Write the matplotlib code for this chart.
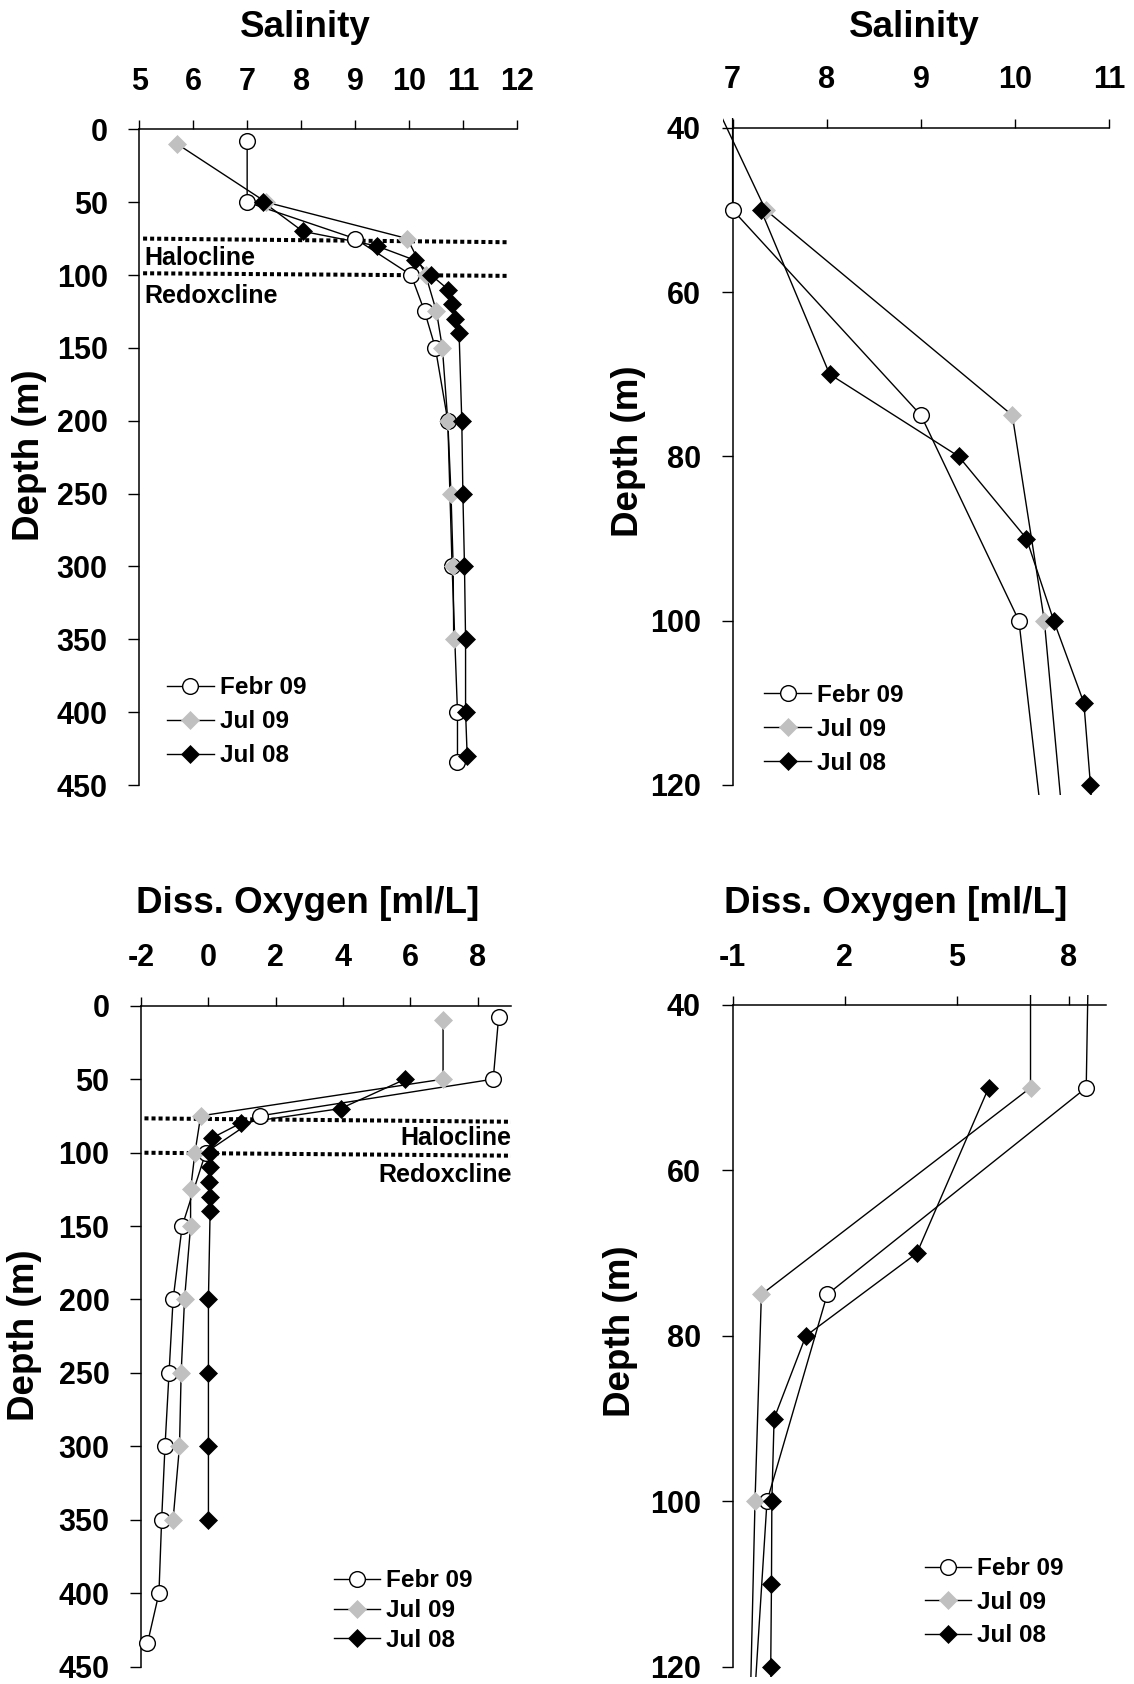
import numpy as np
import matplotlib.pyplot as plt
from matplotlib.lines import Line2D

plt.rcParams['font.family'] = ['Liberation Sans', 'DejaVu Sans']
plt.rcParams['font.weight'] = 'bold'
plt.rcParams['axes.unicode_minus'] = False

# Salinity profiles (depth in m)
sal_feb09_depth = [8, 50, 75, 100, 125, 150, 200, 300, 400, 434]
sal_feb09 = [7.0, 7.0, 9.0, 10.04, 10.29, 10.49, 10.72, 10.80, 10.90, 10.90]
sal_jul09_depth = [10, 50, 75, 100, 125, 150, 200, 250, 300, 350]
sal_jul09 = [5.70, 7.35, 9.97, 10.31, 10.51, 10.62, 10.72, 10.78, 10.82, 10.83]
sal_jul08_depth = [50, 70, 80, 90, 100, 110, 120, 130, 140, 200, 250, 300, 350, 400, 430]
sal_jul08 = [7.30, 8.03, 9.40, 10.12, 10.41, 10.73, 10.80, 10.86, 10.93, 10.98,
             11.00, 11.03, 11.05, 11.05, 11.08]

# Dissolved oxygen profiles [ml/L]
oxy_feb09_depth = [8, 50, 75, 100, 150, 200, 250, 300, 350, 400, 434]
oxy_feb09 = [8.62, 8.46, 1.53, -0.08, -0.78, -1.05, -1.17, -1.29, -1.39, -1.47, -1.81]
oxy_jul09_depth = [10, 50, 75, 100, 125, 150, 200, 250, 300, 350]
oxy_jul09 = [6.97, 6.97, -0.23, -0.40, -0.53, -0.53, -0.71, -0.81, -0.86, -1.05]
oxy_jul08_depth = [50, 70, 80, 90, 100, 110, 120, 130, 140, 200, 250, 300, 350]
oxy_jul08 = [5.85, 3.93, 0.96, 0.11, 0.05, 0.04, 0.02, 0.05, 0.05, 0.0, 0.0, 0.0, 0.0]

labels = ['Febr 09', 'Jul 09', 'Jul 08']

# halocline / redoxcline marks: (x0, x1), (depth0, depth1)
sal_halocline = ((5.07, 11.85), (75.0, 77.5))
sal_redoxcline = ((5.07, 11.85), (98.8, 100.6))
oxy_halocline = ((-1.9, 9.0), (76.7, 79.0))
oxy_redoxcline = ((-1.9, 9.0), (100.1, 102.1))

W, H = 1134, 1684
fig = plt.figure(figsize=(W / 100, H / 100), dpi=100)

styles = [
    dict(marker='o', ms=11.3, mfc='white', mec='black', mew=1.0),
    dict(marker='D', ms=9.2, mfc='#c0c0c0', mec='#c0c0c0', mew=0.5),
    dict(marker='D', ms=9.2, mfc='black', mec='black', mew=0.5),
]


def make_axes(box, xr, yr, xlim, ylim, xticks, yticks):
    # box: pixel positions (left, right, top, bottom) of the axis ends
    left, right, top, bottom = box
    sx = (right - left) / (xr[1] - xr[0])
    sy = (bottom - top) / (yr[1] - yr[0])
    L = left + (xlim[0] - xr[0]) * sx
    R = left + (xlim[1] - xr[0]) * sx
    T = top + (ylim[0] - yr[0]) * sy
    B = top + (ylim[1] - yr[0]) * sy
    ax = fig.add_axes([L / W, 1 - B / H, (R - L) / W, (B - T) / H])
    ax.set_xlim(xlim)
    ax.set_ylim(ylim[1], ylim[0])
    ax.patch.set_visible(False)
    for s in ('right', 'bottom'):
        ax.spines[s].set_visible(False)
    ax.spines['left'].set_position(('data', xr[0]))
    ax.spines['left'].set_bounds(*yr)
    ax.spines['top'].set_position(('data', yr[0]))
    ax.spines['top'].set_bounds(*xr)
    for s in ('left', 'top'):
        ax.spines[s].set_linewidth(1.1)
    ax.xaxis.tick_top()
    ax.set_xticks(xticks)
    ax.set_yticks(yticks)
    ax.tick_params(axis='both', direction='out', width=1.0, labelsize=22)
    ax.tick_params(axis='x', length=6.7, pad=16.5)
    ax.tick_params(axis='y', length=7.8, pad=15)
    return ax


def draw_profile(ax, x, depth, style, xr, yr):
    ax.plot(x, depth, color='black', lw=1.0, zorder=2)
    pts = [(xi, di) for xi, di in zip(x, depth)
           if yr[0] <= di <= yr[1] and xr[0] <= xi <= xr[1]]
    xs, ds = zip(*pts)
    ax.plot(xs, ds, ls='none', clip_on=False, zorder=3, **style)


def add_legend(ax, x, y, spacing):
    handles = [Line2D([], [], color='black', lw=1.0, **st) for st in styles]
    ax.legend(handles, labels, loc='center left',
              bbox_to_anchor=(x / W, 1 - y / H), bbox_transform=fig.transFigure,
              frameon=False, prop={'size': 17.5, 'weight': 'bold'},
              handlelength=1.91, handletextpad=0.25, labelspacing=spacing,
              borderpad=0, borderaxespad=0, numpoints=1)


def dotted(ax, line):
    ax.plot(line[0], line[1], color='black', lw=2.9, ls=(0, (1, 0.75)),
            dash_capstyle='butt', zorder=1)


def ylabel(x, y):
    fig.text(x / W, 1 - y / H, 'Depth (m)', rotation=90, rotation_mode='anchor',
             ha='center', va='baseline', fontsize=26.5)


sal_data = [(sal_feb09, sal_feb09_depth), (sal_jul09, sal_jul09_depth),
            (sal_jul08, sal_jul08_depth)]
oxy_data = [(oxy_feb09, oxy_feb09_depth), (oxy_jul09, oxy_jul09_depth),
            (oxy_jul08, oxy_jul08_depth)]

# Salinity, full water column
xr, yr = (5, 12), (0, 450)
ax1 = make_axes((139.3, 516.8, 129.3, 785), xr, yr, xr, yr,
                np.arange(5, 13, 1), np.arange(0, 451, 50))
for (x, d), st in zip(sal_data, styles):
    draw_profile(ax1, x, d, st, xr, yr)
dotted(ax1, sal_halocline)
dotted(ax1, sal_redoxcline)
ax1.text(5.1, 88.5, 'Halocline', fontsize=18, va='center', ha='left')
ax1.text(5.1, 114.3, 'Redoxcline', fontsize=18, va='center', ha='left')
add_legend(ax1, 167.1, 721.7, 0.45)

# Salinity, 40-120 m
xr, yr = (7, 11), (40, 120)
ax2 = make_axes((732.6, 1109.3, 127.7, 785), xr, yr, (6.9, 11.2), (38.8, 121.2),
                np.arange(7, 12, 1), np.arange(40, 121, 20))
for (x, d), st in zip(sal_data, styles):
    draw_profile(ax2, x, d, st, xr, yr)
add_legend(ax2, 764.4, 729.3, 0.45)

# Dissolved oxygen, full water column
xr, yr = (-2, 9), (0, 450)
ax3 = make_axes((141.1, 511.4, 1005.7, 1666.7), xr, yr, xr, yr,
                np.arange(-2, 9, 2), np.arange(0, 451, 50))
for (x, d), st in zip(oxy_data, styles):
    draw_profile(ax3, x, d, st, xr, yr)
dotted(ax3, oxy_halocline)
dotted(ax3, oxy_redoxcline)
ax3.text(9.0, 90.3, 'Halocline', fontsize=18, va='center', ha='right')
ax3.text(9.0, 115, 'Redoxcline', fontsize=18, va='center', ha='right')
add_legend(ax3, 333.9, 1610.7, 0.28)

# Dissolved oxygen, 40-120 m
xr, yr = (-1, 9), (40, 120)
ax4 = make_axes((732.6, 1106.4, 1005, 1666.7), xr, yr, (-1.3, 9.2), (38.8, 121.2),
                np.arange(-1, 9, 3), np.arange(40, 121, 20))
for (x, d), st in zip(oxy_data, styles):
    draw_profile(ax4, x, d, st, xr, yr)
add_legend(ax4, 924.5, 1602.3, 0.43)

# panel titles and depth labels
for cx, by, t in [(305.4, 36.7, 'Salinity'), (914.6, 36.7, 'Salinity'),
                  (308.0, 913.3, 'Diss. Oxygen [ml/L]'),
                  (895.3, 913.3, 'Diss. Oxygen [ml/L]')]:
    fig.text(cx / W, 1 - by / H, t, ha='center', va='baseline', fontsize=26.5)

ylabel(39.0, 455)
ylabel(637.5, 451)
ylabel(33.5, 1335)
ylabel(630.0, 1331)

fig.savefig('out.png', dpi=100)
